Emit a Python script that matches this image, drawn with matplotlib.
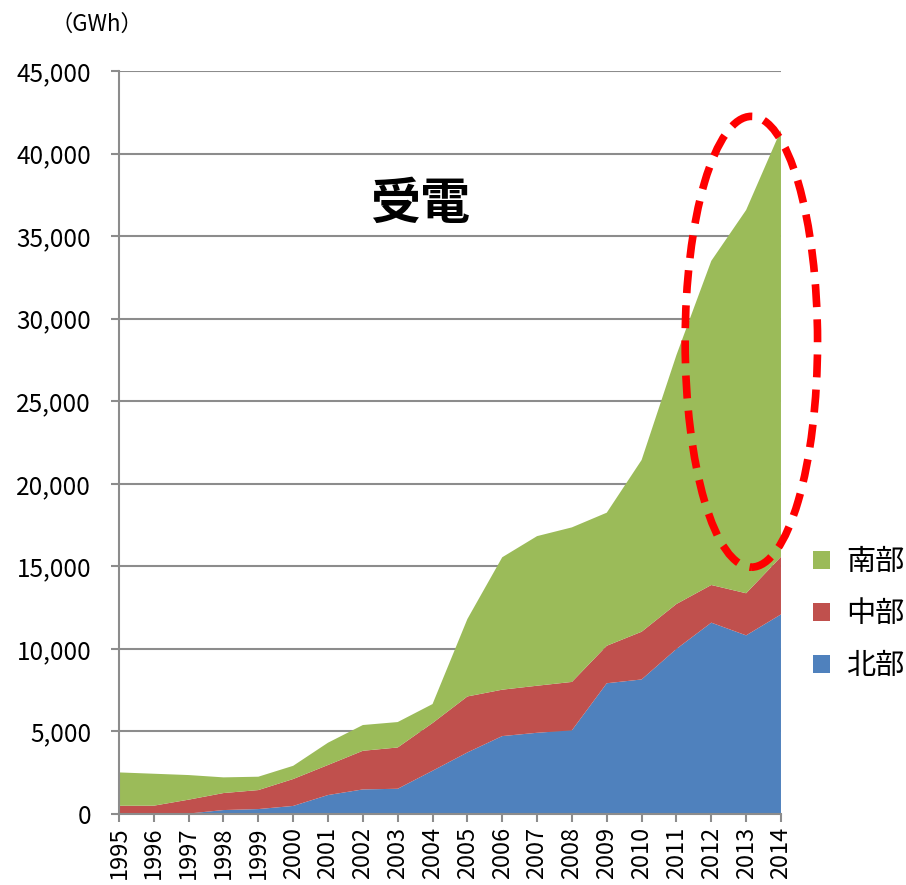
import numpy as np
import matplotlib
matplotlib.use("Agg")
import matplotlib.pyplot as plt
from matplotlib.patches import Ellipse

plt.rcParams['font.family'] = ['Noto Sans CJK JP', 'DejaVu Sans']

years = list(range(1995, 2015))
# GWh
north = [0, 0, 30, 240, 300, 490, 1150, 1490, 1530, 2620, 3730, 4720, 4920, 5070,
         7920, 8150, 10000, 11590, 10820, 12090]
central = [500, 505, 840, 1030, 1150, 1630, 1820, 2340, 2500, 2890, 3390, 2810, 2850, 2930,
           2270, 2890, 2720, 2280, 2550, 3490]
south = [2020, 1935, 1490, 950, 810, 800, 1350, 1560, 1540, 1150, 4690, 8020, 9060, 9360,
         8060, 10400, 15080, 19630, 23210, 25850]
labels = ['北部', '中部', '南部']
colors = ['#4F81BD', '#C0504D', '#9BBB59']

fig = plt.figure(figsize=(9.06, 8.85), dpi=100)
ax = fig.add_axes([0.1313, 0.0802, 0.7307, 0.8396])

polys = ax.stackplot(years, north, central, south, colors=colors, labels=labels, linewidth=0)

ax.set_xlim(1995, 2014)
ax.set_ylim(0, 45000)
ax.set_yticks(np.arange(0, 45001, 5000))
ax.set_yticklabels([f'{v:,}' for v in range(0, 45001, 5000)], fontsize=17.5)
ax.set_xticks(years)
ax.set_xticklabels([str(y) for y in years], rotation=90, fontsize=17)

ax.yaxis.grid(True, color='#8C8C8C', linewidth=1.5)
ax.set_axisbelow(True)
for s in ['top', 'right']:
    ax.spines[s].set_visible(False)
for s in ['left', 'bottom']:
    ax.spines[s].set_color('#8C8C8C')
    ax.spines[s].set_linewidth(1.5)
ax.tick_params(axis='both', color='#8C8C8C', width=1.5, length=6, pad=3)
ax.tick_params(axis='y', pad=14)

# dashed highlight around recent years
ell = Ellipse((2013.15, 28600), 3.8, 27300, fill=False, edgecolor='#FF0000',
              linestyle=(0, (3, 1.6)), linewidth=5.5, clip_on=False, zorder=5)
ax.add_patch(ell)

ax.text(0.455, 0.82, '受電', transform=ax.transAxes, fontsize=36, fontweight='bold',
        ha='center', va='center')
fig.text(0.107, 0.972, '（GWh）', fontsize=16, ha='center', va='center')

handles = polys[::-1]
fig.legend(handles, labels[::-1], loc='center left', bbox_to_anchor=(0.881, 0.306),
           frameon=False, fontsize=21, handlelength=0.6, handleheight=0.6,
           handletextpad=0.55, labelspacing=0.75, borderpad=0)

fig.savefig('out.png', dpi=100)
